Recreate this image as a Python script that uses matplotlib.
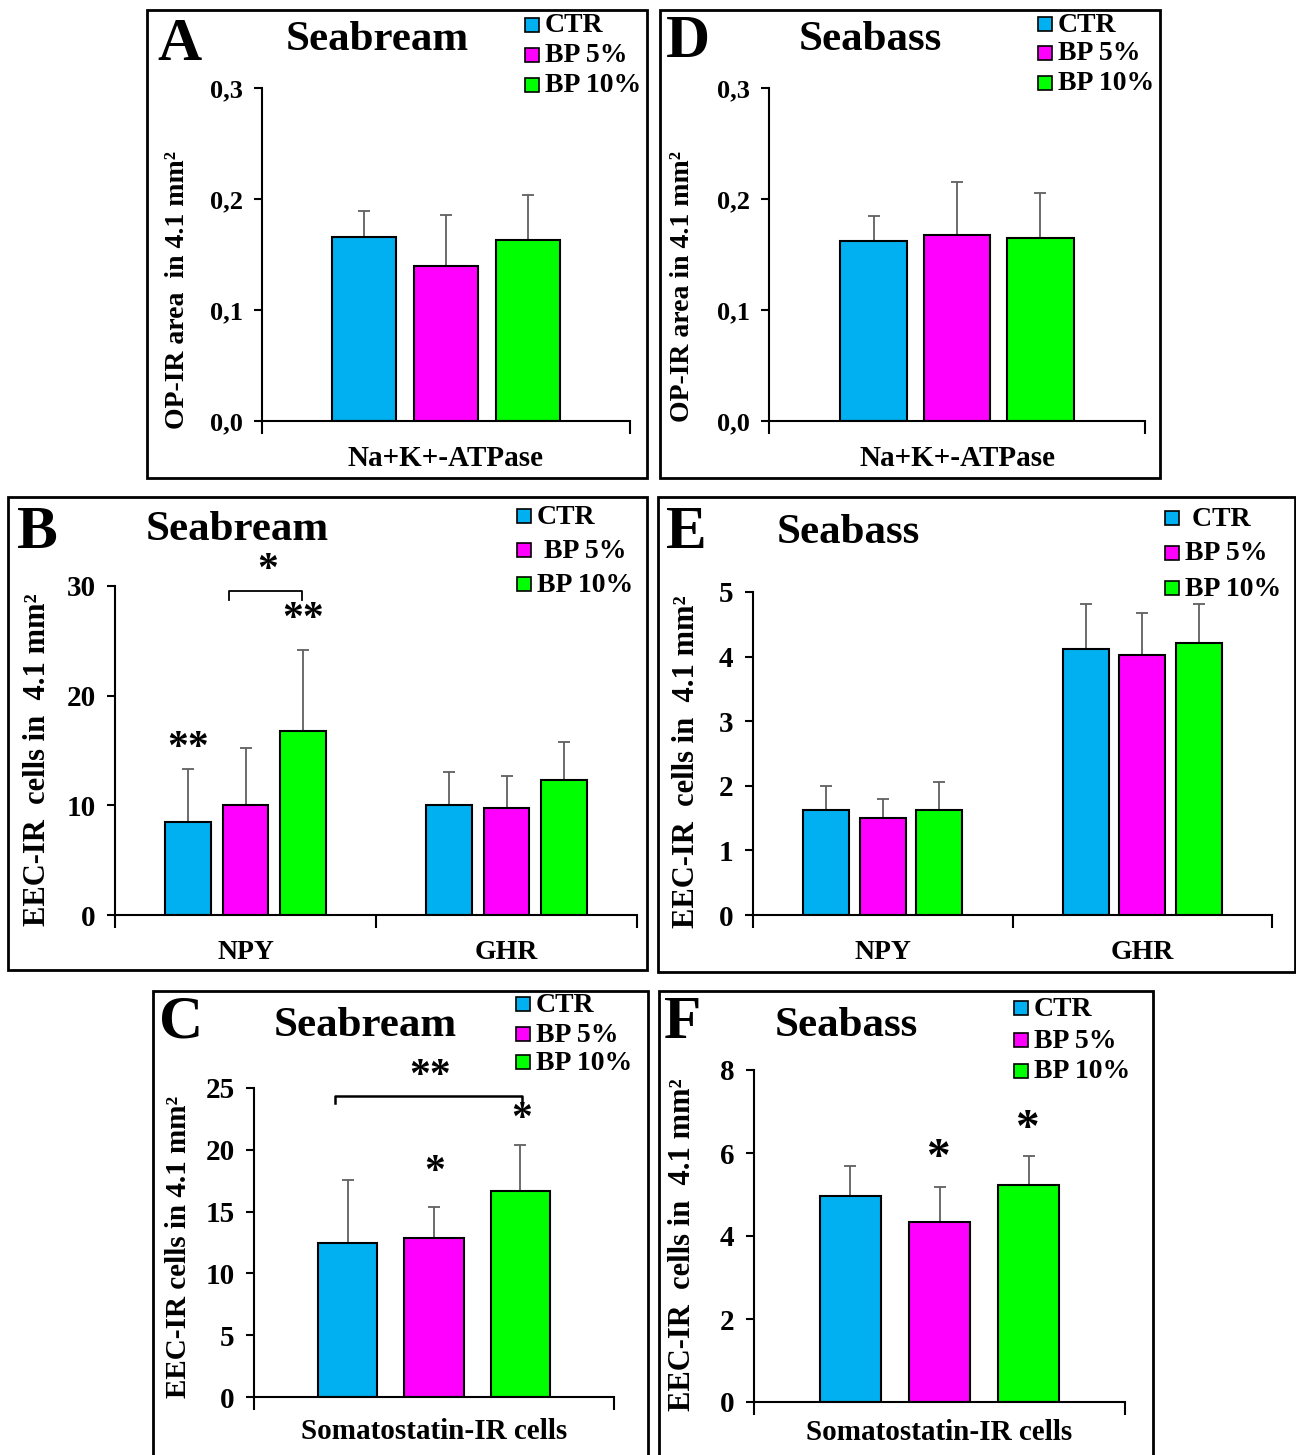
import matplotlib
matplotlib.use('Agg')
import matplotlib.pyplot as plt
from matplotlib.patches import Rectangle
import numpy as np

plt.rcParams['font.family'] = ['Liberation Serif', 'DejaVu Serif']
plt.rcParams['font.weight'] = 'bold'

W, H = 1296, 1455

# ============================================
#   Data
# ============================================
groups = ['CTR', 'BP 5%', 'BP 10%']
colors = ['#00B0F0', '#FF00FF', '#00FF00']

# A - Seabream, Na+K+-ATPase
A_mean = [0.166, 0.140, 0.163]
A_err = [0.023, 0.046, 0.041]
# D - Seabass, Na+K+-ATPase
D_mean = [0.162, 0.168, 0.165]
D_err = [0.023, 0.047, 0.040]

# B - Seabream, NPY / GHR
BE_cats = ['NPY', 'GHR']
B_mean = [[8.5, 10.0], [10.0, 9.8], [16.8, 12.3]]
B_err = [[4.8, 3.0], [5.2, 2.9], [7.4, 3.5]]
# E - Seabass, NPY / GHR
E_mean = [[1.63, 4.12], [1.50, 4.02], [1.63, 4.21]]
E_err = [[0.37, 0.69], [0.30, 0.65], [0.43, 0.60]]

# C - Seabream, somatostatin
C_mean = [12.46, 12.9, 16.7]
C_err = [5.1, 2.5, 3.7]
# F - Seabass, somatostatin
F_mean = [4.96, 4.34, 5.23]
F_err = [0.73, 0.84, 0.70]

A_ticks = [0.0, 0.1, 0.2, 0.3]
A_ticklabels = ['0,0', '0,1', '0,2', '0,3']
B_ticks = [0, 10, 20, 30]
E_ticks = [0, 1, 2, 3, 4, 5]
C_ticks = [0, 5, 10, 15, 20, 25]
F_ticks = [0, 2, 4, 6, 8]

fig = plt.figure(figsize=(W / 100, H / 100), dpi=100)


def px_axes(x0, y0, x1, y1):
    return fig.add_axes([x0 / W, 1 - y1 / H, (x1 - x0) / W, (y1 - y0) / H])


def ftext(x, y, s, **kw):
    fig.text(x / W, 1 - y / H, s, **kw)


def frame(x0, y0, x1, y1):
    fig.patches.append(Rectangle((x0 / W, 1 - y1 / H), (x1 - x0) / W, (y1 - y0) / H,
                                 transform=fig.transFigure, fill=False,
                                 edgecolor='black', linewidth=2))


def legend(x, ys, labels, size=20):
    for y, lab, c in zip(ys, labels, colors):
        fig.patches.append(Rectangle(((x - 7) / W, 1 - (y + 7) / H), 14 / W, 14 / H,
                                     transform=fig.transFigure, facecolor=c,
                                     edgecolor='black', linewidth=1.2))
        ftext(x + 13, y + 1, lab, fontsize=size, fontweight='bold', va='center', ha='left')


def bars(ax, cats, means, errs, width, step, ylim, ticks, ticklabels, tsize, catsize, catpad=20):
    ncat = len(cats)
    xc = np.arange(ncat)
    for i in range(3):
        m = np.atleast_1d(means[i])
        e = np.atleast_1d(errs[i])
        xs = xc + (i - 1) * step
        ax.bar(xs, m, width, color=colors[i], edgecolor='black', linewidth=1.5, zorder=2)
        ax.errorbar(xs, m, yerr=[np.zeros_like(e), e], fmt='none', ecolor='#606060',
                    elinewidth=1.3, capsize=4, capthick=1.3, zorder=1)
    ax.set_xlim(-0.5, ncat - 0.5)
    ax.set_ylim(*ylim)
    ax.set_xticks(np.arange(ncat + 1) - 0.5)
    ax.set_xticklabels([])
    ax.set_xticks(xc, minor=True)
    ax.set_xticklabels(cats, minor=True)
    ax.tick_params(axis='x', which='major', direction='out', length=9, width=1.5)
    ax.tick_params(axis='x', which='minor', length=0, pad=catpad, labelsize=catsize)
    ax.set_yticks(ticks)
    ax.set_yticklabels(ticklabels)
    ax.tick_params(axis='y', direction='out', length=6, width=1.5, labelsize=tsize, pad=8)
    for lab in ax.get_xticklabels(minor=True) + ax.get_yticklabels():
        lab.set_fontweight('bold')
    for s in ['top', 'right']:
        ax.spines[s].set_visible(False)
    for s in ['left', 'bottom']:
        ax.spines[s].set_linewidth(1.5)
    ax.patch.set_alpha(0)


# ---------------- Panel A ----------------
frame(147, 10, 647, 478)
axA = px_axes(262, 88, 630, 421)
bars(axA, ['Na+K+-ATPase'], A_mean, A_err, 0.174, 0.223, (0, 0.3), A_ticks, A_ticklabels, 19, 21, 17)
ftext(180, 45, 'A', fontsize=44, fontweight='bold', ha='center', va='center')
ftext(377, 40, 'Seabream', fontsize=31, fontweight='bold', ha='center', va='center')
legend(532, [25, 55, 85], groups)
ftext(177, 290, 'OP-IR area  in 4.1 mm²', fontsize=20, fontweight='bold',
      rotation=90, ha='center', va='center')

# ---------------- Panel D ----------------
frame(660, 10, 1160, 478)
axD = px_axes(769, 88, 1145, 421)
bars(axD, ['Na+K+-ATPase'], D_mean, D_err, 0.176, 0.222, (0, 0.3), A_ticks, A_ticklabels, 19, 21, 17)
ftext(688, 42, 'D', fontsize=44, fontweight='bold', ha='center', va='center')
ftext(870, 40, 'Seabass', fontsize=31, fontweight='bold', ha='center', va='center')
legend(1045, [24, 53, 83], groups)
ftext(683, 287, 'OP-IR area in 4.1 mm²', fontsize=20, fontweight='bold',
      rotation=90, ha='center', va='center')

# ---------------- Panel B ----------------
frame(8, 497, 647, 970)
axB = px_axes(115, 586, 637, 915)
bars(axB, BE_cats, B_mean, B_err, 0.176, 0.22, (0, 30), B_ticks, [str(t) for t in B_ticks], 21, 20, 18)
ftext(37, 533, 'B', fontsize=44, fontweight='bold', ha='center', va='center')
ftext(237, 530, 'Seabream', fontsize=31, fontweight='bold', ha='center', va='center')
legend(524, [516, 550, 584], ['CTR', ' BP 5%', 'BP 10%'])
ftext(38, 760, 'EEC-IR  cells in  4.1 mm²', fontsize=22, fontweight='bold',
      rotation=90, ha='center', va='center')
axB.plot([-0.063, -0.063, 0.216, 0.216], [28.7, 29.5, 29.5, 28.7], color='black', lw=1.3)
axB.text(0.085, 31.4, '*', fontsize=30, ha='center', va='center')
axB.text(0.22, 26.9, '**', fontsize=30, ha='center', va='center')
axB.text(-0.22, 15.1, '**', fontsize=30, ha='center', va='center')

# ---------------- Panel E ----------------
frame(658, 497, 1295, 972)
axE = px_axes(753, 592, 1272, 915)
bars(axE, BE_cats, E_mean, E_err, 0.177, 0.218, (0, 5), E_ticks, [str(t) for t in E_ticks], 21, 20, 18)
ftext(686, 533, 'E', fontsize=44, fontweight='bold', ha='center', va='center')
ftext(848, 533, 'Seabass', fontsize=31, fontweight='bold', ha='center', va='center')
legend(1172, [518, 553, 588], [' CTR', 'BP 5%', 'BP 10%'])
ftext(686, 762, 'EEC-IR  cells in  4.1 mm²', fontsize=22, fontweight='bold',
      rotation=90, ha='center', va='center')

# ---------------- Panel C ----------------
frame(153, 991, 648, 1460)
axC = px_axes(254, 1088, 614, 1397)
bars(axC, ['Somatostatin-IR cells'], C_mean, C_err, 0.164, 0.24, (0, 25), C_ticks,
     [str(t) for t in C_ticks], 21, 21, 15)
ftext(181, 1023, 'C', fontsize=44, fontweight='bold', ha='center', va='center')
ftext(365, 1026, 'Seabream', fontsize=31, fontweight='bold', ha='center', va='center')
legend(523, [1004, 1034, 1062], groups)
ftext(178, 1247, 'EEC-IR cells in 4.1 mm²', fontsize=21, fontweight='bold',
      rotation=90, ha='center', va='center')
axC.plot([-0.275, -0.275, 0.244, 0.244], [23.8, 24.35, 24.35, 23.8], color='black', lw=1.8)
axC.text(-0.011, 25.9, '**', fontsize=30, ha='center', va='center')
axC.text(0.003, 18.1, '*', fontsize=30, ha='center', va='center')
axC.text(0.244, 22.4, '*', fontsize=30, ha='center', va='center')

# ---------------- Panel F ----------------
frame(659, 991, 1153, 1460)
axF = px_axes(754, 1070, 1125, 1402)
bars(axF, ['Somatostatin-IR cells'], F_mean, F_err, 0.162, 0.24, (0, 8), F_ticks,
     [str(t) for t in F_ticks], 21, 21, 12)
ftext(683, 1023, 'F', fontsize=44, fontweight='bold', ha='center', va='center')
ftext(846, 1026, 'Seabass', fontsize=31, fontweight='bold', ha='center', va='center')
legend(1021, [1008, 1040, 1071], groups)
ftext(683, 1245, 'EEC-IR  cells in  4.1 mm²', fontsize=22, fontweight='bold',
      rotation=90, ha='center', va='center')
axF.text(-0.004, 5.85, '*', fontsize=34, ha='center', va='center')
axF.text(0.236, 6.55, '*', fontsize=34, ha='center', va='center')

fig.savefig('out.png', dpi=100)
